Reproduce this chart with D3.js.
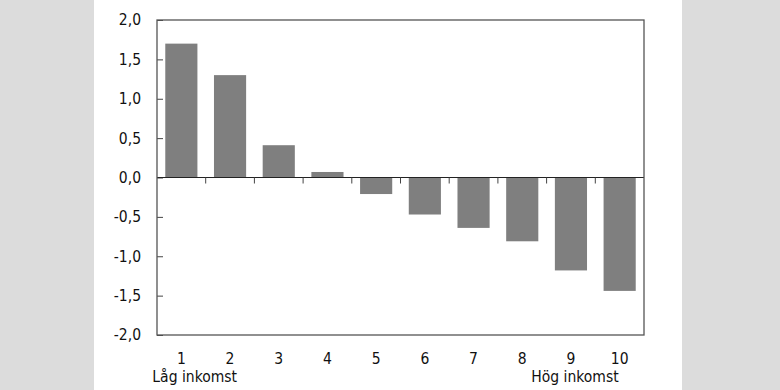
<!DOCTYPE html>
<html>
<head>
<meta charset="utf-8">
<script src="https://cdn.jsdelivr.net/npm/d3@7"></script>
<style>
  body { margin: 0; background: #dcdcdc; }
  svg { display: block; }
  text { font-family: "DejaVu Sans Condensed", "Liberation Sans Narrow", sans-serif; font-stretch: condensed; font-size: 15.5px; fill: #111; }
</style>
</head>
<body>
<svg id="chart" width="780" height="390"></svg>
<script>
// deciles and values (percent)
const deciles = ["1", "2", "3", "4", "5", "6", "7", "8", "9", "10"];
const values = [1.70, 1.30, 0.41, 0.07, -0.21, -0.47, -0.64, -0.81, -1.18, -1.44];
const yTicks = [-2.0, -1.5, -1.0, -0.5, 0.0, 0.5, 1.0, 1.5, 2.0];
const endLabels = ["Låg inkomst", "Hög inkomst"];

const svg = d3.select("#chart");

// white panel
svg.append("rect")
    .attr("x", 94).attr("y", 0)
    .attr("width", 588).attr("height", 390)
    .attr("fill", "#fff");

const plotL = 157, plotR = 644, plotT = 20, plotB = 335;

const x = d3.scaleBand()
    .domain(deciles)
    .range([plotL, plotR])
    .paddingInner(0.34)
    .paddingOuter(0.17);

const y = d3.scaleLinear()
    .domain([-2, 2])
    .range([plotB, plotT]);

// bars
svg.selectAll(".bar")
    .data(values)
    .enter()
    .append("rect")
    .attr("class", "bar")
    .attr("x", (d, i) => x(deciles[i]))
    .attr("y", d => y(Math.max(0, d)))
    .attr("width", x.bandwidth())
    .attr("height", d => Math.abs(y(d) - y(0)))
    .attr("fill", "#7f7f7f");

// y axis, ticks pointing inward
const yAxis = svg.append("g")
    .attr("transform", `translate(${plotL},0)`)
    .call(d3.axisRight(y).tickValues(yTicks).tickSize(6).tickFormat(""));
yAxis.select(".domain").remove();
yAxis.selectAll("line").attr("stroke", "#444");

svg.append("g")
    .selectAll("text")
    .data(yTicks)
    .enter()
    .append("text")
    .attr("x", 141)
    .attr("y", d => y(d))
    .attr("dy", "0.35em")
    .attr("text-anchor", "end")
    .text(d => d3.format(".1f")(d).replace(".", ",").replace("−", "-"));

// zero line with ticks between categories
const sep = d3.range(1, deciles.length).map(i => plotL + i * (plotR - plotL) / deciles.length);
svg.append("line")
    .attr("x1", plotL).attr("x2", plotR)
    .attr("y1", y(0)).attr("y2", y(0))
    .attr("stroke", "#222").attr("stroke-width", 1.2);
svg.selectAll(".ztick")
    .data(sep)
    .enter()
    .append("line")
    .attr("x1", d => d).attr("x2", d => d)
    .attr("y1", y(0)).attr("y2", y(0) + 6)
    .attr("stroke", "#444");

// frame
svg.append("rect")
    .attr("x", plotL).attr("y", plotT)
    .attr("width", plotR - plotL).attr("height", plotB - plotT)
    .attr("fill", "none")
    .attr("stroke", "#555")
    .attr("stroke-width", 1.3);

// x labels
svg.selectAll(".xl")
    .data(deciles)
    .enter()
    .append("text")
    .attr("x", d => x(d) + x.bandwidth() / 2)
    .attr("y", 364)
    .attr("text-anchor", "middle")
    .text(d => d);

svg.append("text")
    .attr("x", x("1") + x.bandwidth() / 2 - 29)
    .attr("y", 382)
    .attr("text-anchor", "start")
    .text(endLabels[0]);

svg.append("text")
    .attr("x", x("10") + x.bandwidth() / 2 - 1)
    .attr("y", 382)
    .attr("text-anchor", "end")
    .text(endLabels[1]);
</script>
</body>
</html>
